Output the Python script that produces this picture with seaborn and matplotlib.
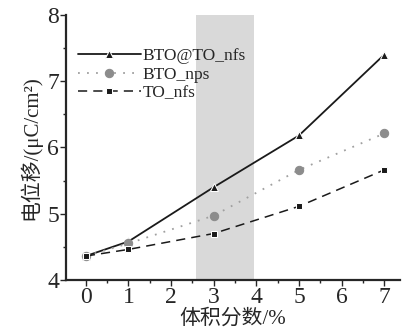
import numpy as np
import pandas as pd
import matplotlib
matplotlib.use("Agg")
import matplotlib.pyplot as plt
import seaborn as sns
from matplotlib.ticker import MultipleLocator

# volume fraction (%) and displacement (uC/cm2)
vol_frac = [0, 1, 3, 5, 7]
bto_to_nfs = [4.36, 4.58, 5.40, 6.18, 7.40]
bto_nps = [4.36, 4.55, 4.97, 5.66, 6.21]
to_nfs = [4.36, 4.46, 4.70, 5.11, 5.66]
labels = ["BTO@TO_nfs", "BTO_nps", "TO_nfs"]
shade_span = (2.58, 3.94)

sns.set_style("ticks")
plt.rcParams["font.family"] = ["Liberation Serif", "Noto Sans CJK SC", "DejaVu Sans"]

fig = plt.figure(figsize=(4.04, 3.32), dpi=100)
ax = fig.add_axes([0.163, 0.157, 0.827, 0.798])

ax.axvspan(*shade_span, color="#d9d9d9", zorder=0, lw=0)

styles = [
    dict(color="#1a1a1a", linestyle="-", marker="^", markersize=6, linewidth=1.3),
    dict(color="#a0a0a0", linestyle=(0, (1, 4)), marker="o", markersize=6,
         linewidth=1.3, markerfacecolor="#8c8c8c", markeredgecolor="#8c8c8c"),
    dict(color="#1a1a1a", linestyle=(0, (6, 4)), marker="s", markersize=5, linewidth=1.1),
]
for vals, lab, st in zip([bto_to_nfs, bto_nps, to_nfs], labels, styles):
    df = pd.DataFrame({"x": vol_frac, "y": vals})
    sns.lineplot(data=df, x="x", y="y", ax=ax, label=lab, **st)

ax.set_xlim(-0.47, 7.37)
ax.set_ylim(4, 8)
ax.xaxis.set_major_locator(MultipleLocator(1))
ax.xaxis.set_minor_locator(MultipleLocator(0.5))
ax.yaxis.set_major_locator(MultipleLocator(1))
ax.yaxis.set_minor_locator(MultipleLocator(0.5))
ax.tick_params(which="major", length=4, width=1, labelsize=17, pad=1)
ax.tick_params(which="minor", length=2.5, width=1)
for s in ["left", "bottom"]:
    ax.spines[s].set_linewidth(1.6)
sns.despine(ax=ax)

ax.set_xlabel("体积分数/%", fontsize=15, labelpad=1)
ax.set_ylabel("电位移/(μC/cm²)", fontsize=15, labelpad=4)

ax.legend(loc="upper left", bbox_to_anchor=(0.0, 0.92), frameon=False,
          fontsize=12.5, handlelength=3.6, handletextpad=0.1,
          labelspacing=0.12, borderaxespad=0.3)

fig.savefig("out.png", dpi=100)
